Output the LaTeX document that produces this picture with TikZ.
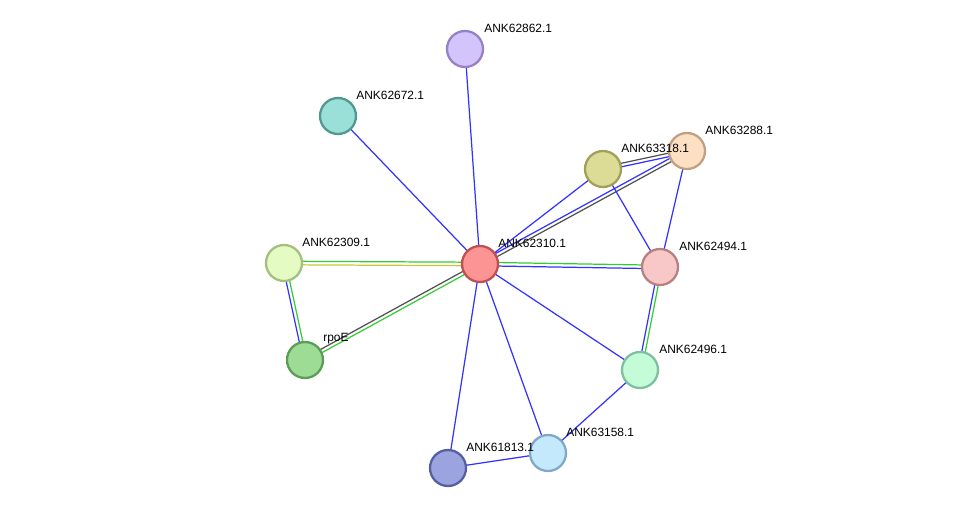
\documentclass[tikz,border=0pt]{standalone}
\usepackage{fontspec}
\setmainfont{Liberation Sans}
\usepackage{xcolor}
\usetikzlibrary{calc,backgrounds}

\definecolor{linkblue}{RGB}{51,51,255}
\definecolor{linkgreen}{RGB}{51,204,51}
\definecolor{linkgray}{RGB}{80,80,80}
\definecolor{linkyellow}{RGB}{200,200,50}

% two parallel lines between two proteins
\newcommand{\twolinks}[4]{%
  \draw[link,#3] ($(#1.center)!1pt!90:(#2.center)$) -- ($(#2.center)!1pt!-90:(#1.center)$);
  \draw[link,#4] ($(#1.center)!1pt!-90:(#2.center)$) -- ($(#2.center)!1pt!90:(#1.center)$);}

\begin{document}
\begin{tikzpicture}[x=0.02cm, y=-0.02cm, font=\fontsize{6.8}{8}\selectfont,
    prot/.style={circle, line width=1.3pt, minimum size=0.72cm, inner sep=0pt},
    lbl/.style={anchor=west, inner sep=0pt},
    link/.style={line width=0.7pt}]
  % 1 unit = 1 px of the 975 x 514 picture
  \useasboundingbox (0,0) rectangle (975,514);

  \node[prot, fill={rgb,255:red,212;green,196;blue,252}, draw={rgb,255:red,150;green,128;blue,200}] (p62862) at (465,49) {};
  \node[prot, fill={rgb,255:red,154;green,224;blue,216}, draw={rgb,255:red,80;green,152;blue,144}] (p62672) at (338,116) {};
  \node[prot, fill={rgb,255:red,220;green,220;blue,150}, draw={rgb,255:red,160;green,160;blue,90}] (p63318) at (603,169) {};
  \node[prot, fill={rgb,255:red,253;green,224;blue,196}, draw={rgb,255:red,192;green,160;blue,128}] (p63288) at (687,151) {};
  \node[prot, fill={rgb,255:red,228;green,252;blue,196}, draw={rgb,255:red,164;green,192;blue,128}] (p62309) at (284,263) {};
  \node[prot, fill={rgb,255:red,252;green,148;blue,148}, draw={rgb,255:red,192;green,80;blue,80}] (p62310) at (480,264) {};
  \node[prot, fill={rgb,255:red,248;green,200;blue,200}, draw={rgb,255:red,184;green,128;blue,128}] (p62494) at (660,267) {};
  \node[prot, fill={rgb,255:red,156;green,220;blue,148}, draw={rgb,255:red,92;green,156;blue,88}] (prpoE) at (305,360) {};
  \node[prot, fill={rgb,255:red,196;green,252;blue,216}, draw={rgb,255:red,128;green,192;blue,160}] (p62496) at (640,370) {};
  \node[prot, fill={rgb,255:red,196;green,232;blue,252}, draw={rgb,255:red,128;green,168;blue,200}] (p63158) at (548,453) {};
  \node[prot, fill={rgb,255:red,156;green,164;blue,224}, draw={rgb,255:red,84;green,96;blue,160}] (p61813) at (448,468) {};

  \node[lbl] (t62862) at ($(p62862)+(19,-21)$) {ANK62862.1};
  \node[lbl] (t62672) at ($(p62672)+(18,-21)$) {ANK62672.1};
  \node[lbl] (t63318) at ($(p63318)+(18,-21)$) {ANK63318.1};
  \node[lbl] (t63288) at ($(p63288)+(18,-21)$) {ANK63288.1};
  \node[lbl] (t62309) at ($(p62309)+(18,-21)$) {ANK62309.1};
  \node[lbl] (t62310) at ($(p62310)+(18,-21)$) {ANK62310.1};
  \node[lbl] (t62494) at ($(p62494)+(19,-21)$) {ANK62494.1};
  \node[lbl] (trpoE) at ($(prpoE)+(18,-21)$) {rpoE};
  \node[lbl] (t62496) at ($(p62496)+(19,-21)$) {ANK62496.1};
  \node[lbl] (t63158) at ($(p63158)+(18,-21)$) {ANK63158.1};
  \node[lbl] (t61813) at ($(p61813)+(18,-21)$) {ANK61813.1};

  \begin{scope}[on background layer]
    \draw[link,linkblue] (p62862.center) -- (p62310.center);
    \draw[link,linkblue] (p62672.center) -- (p62310.center);
    \draw[link,linkblue] (p63318.center) -- (p62310.center);
    \twolinks{p63288}{p62310}{linkgray}{linkblue}
    \twolinks{p63318}{p63288}{linkgray}{linkblue}
    \draw[link,linkblue] (p63318.center) -- (p62494.center);
    \draw[link,linkblue] (p63288.center) -- (p62494.center);
    \twolinks{p62309}{p62310}{linkgreen}{linkyellow}
    \twolinks{prpoE}{p62310}{linkgray}{linkgreen}
    \twolinks{p62309}{prpoE}{linkgreen}{linkblue}
    \twolinks{p62310}{p62494}{linkgreen}{linkblue}
    \twolinks{p62494}{p62496}{linkgreen}{linkblue}
    \draw[link,linkblue] (p62310.center) -- (p62496.center);
    \draw[link,linkblue] (p62310.center) -- (p63158.center);
    \draw[link,linkblue] (p62310.center) -- (p61813.center);
    \draw[link,linkblue] (p62496.center) -- (p63158.center);
    \draw[link,linkblue] (p61813.center) -- (p63158.center);
  \end{scope}
\end{tikzpicture}
\end{document}
